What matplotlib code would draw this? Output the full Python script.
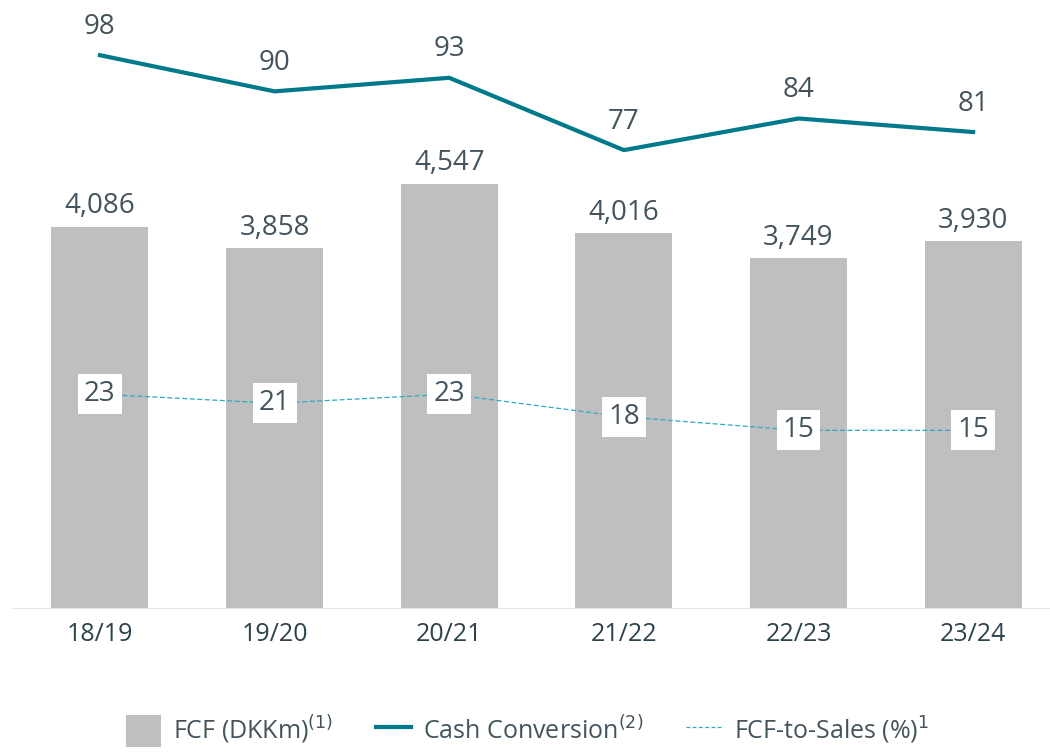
import matplotlib.pyplot as plt
from matplotlib.patches import Patch
from matplotlib.lines import Line2D

# data
years = ["18/19", "19/20", "20/21", "21/22", "22/23", "23/24"]
fcf = [4086, 3858, 4547, 4016, 3749, 3930]
cash_conv = [98, 90, 93, 77, 84, 81]
fcf_to_sales = [23, 21, 23, 18, 15, 15]

plt.rcParams['font.family'] = ['Open Sans', 'DejaVu Sans']
txt = '#44545c'
bar_col = '#bfbfbf'
teal = '#00798b'
light = '#2aaac2'

fig = plt.figure(figsize=(10.5, 7.56), dpi=100)
ax = fig.add_axes([0.012, 1 - 608 / 756, 0.988, 598 / 756])
ax2 = ax.twinx()

x = list(range(len(years)))
ax.bar(x, fcf, width=0.556, color=bar_col, zorder=1)
for xi, v in zip(x, fcf):
    ax.text(xi, v + 220, f"{v:,}", ha='center', va='center', fontsize=20, color=txt)

ax.set_xlim(-0.5, 5.44)
ax.set_ylim(0, 6410)
ax.set_yticks([])
ax.set_xticks(x)
ax.set_xticklabels(years, fontsize=18, color='#2c434b')
ax.tick_params(axis='x', length=0, pad=10)
for s in ['top', 'right', 'left']:
    ax.spines[s].set_visible(False)
ax.spines['bottom'].set_color('#e4e4e4')

ax2.plot(x, cash_conv, color=teal, lw=3, zorder=3)
for xi, v in zip(x, cash_conv):
    ax2.text(xi, v + 6.3, str(v), ha='center', va='center', fontsize=20, color=txt)

ax2.plot(x, fcf_to_sales, color=light, lw=0.9, ls=(0, (4, 2)), zorder=3)
for xi, v in zip(x, fcf_to_sales):
    ax2.text(xi, v, str(v), ha='center', va='center', fontsize=20, color=txt, zorder=4,
             bbox=dict(boxstyle='square,pad=0.22', fc='white', ec='none'))

ax2.set_ylim(-24.3, 108)
ax2.set_yticks([])
for s in ['top', 'right', 'left', 'bottom']:
    ax2.spines[s].set_visible(False)

handles = [
    Patch(facecolor=bar_col, edgecolor='none'),
    Line2D([0], [0], color=teal, lw=3),
    Line2D([0], [0], color=light, lw=0.9, ls=(0, (3, 2))),
]
labels = ["FCF (DKKm)$^{(1)}$", "Cash Conversion$^{(2)}$", "FCF-to-Sales (%)$^{1}$"]
fig.legend(handles, labels, loc='lower center', bbox_to_anchor=(0.502, -0.018), ncol=3,
           frameon=False, fontsize=18, labelcolor=txt, handlelength=1.4, handleheight=1.6,
           columnspacing=1.7, handletextpad=0.5)

fig.savefig('out.png', dpi=100)
